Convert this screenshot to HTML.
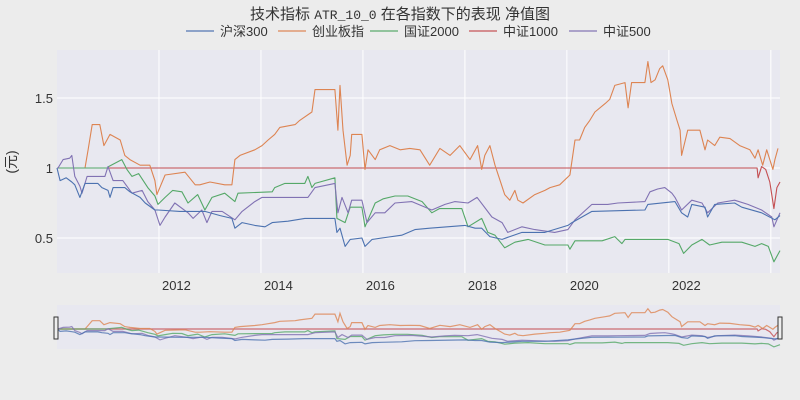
<!DOCTYPE html>
<html><head><meta charset="utf-8">
<style>
html,body{margin:0;padding:0;background:#ececec;}
svg{display:block;font-family:"Liberation Sans","Noto Sans CJK SC",sans-serif;}
</style></head>
<body>
<svg id="chart" width="800" height="400" xmlns="http://www.w3.org/2000/svg">
  <rect x="0" y="0" width="800" height="400" fill="#ececec"/>
  <rect x="57" y="50" width="723" height="223" fill="#e8e8f0"/>
  <g id="grid"></g>
  <g id="series"></g>
  <g id="xaxis"></g>
  <g id="yaxis"></g>
  <text x="400" y="19" text-anchor="middle" font-size="15" fill="#333">技术指标 <tspan font-family="Liberation Mono, monospace" font-size="13">ATR_10_0</tspan> 在各指数下的表现 净值图</text>
  <text transform="translate(16,162) rotate(-90)" text-anchor="middle" font-size="14" fill="#333">(元)</text>
  <g id="legend"></g>
  <rect x="57" y="305" width="723" height="44" fill="#e8e8f0"/>
  <g id="slider-series"></g>
  <rect x="54" y="317" width="4" height="22" fill="#eee" stroke="#333" stroke-width="1"/>
  <rect x="778" y="317" width="4" height="22" fill="#eee" stroke="#333" stroke-width="1"/>
</svg>
<script>
const seriesNames = ["沪深300","创业板指","国证2000","中证1000","中证500"];
const seriesColors = ["#4c72b0","#dd8452","#55a868","#c44e52","#8172b3"];
const xTickYears = [2012,2014,2016,2018,2020,2022];
const xGridYears = [2012,2014,2016,2018,2020,2022,2024];
const yTickValues = [0.5,1,1.5];
const yTickLabels = ["0.5","1","1.5"];

const hs300T = [2010,2010.06,2010.18,2010.29,2010.35,2010.45,2010.55,2010.80,2010.88,2011.00,2011.04,2011.10,2011.33,2011.43,2011.63,2011.73,2011.92,2011.98,2012.41,2012.90,2013.20,2013.43,2013.49,2013.63,2013.88,2014.08,2014.22,2014.53,2014.86,2015.45,2015.49,2015.55,2015.65,2015.75,2015.98,2016.04,2016.18,2016.37,2016.76,2017.02,2017.31,2018.00,2018.20,2018.33,2018.49,2018.73,2018.88,2019.12,2019.57,2020.02,2020.10,2020.49,2021.53,2021.59,2022.12,2022.25,2022.37,2022.45,2022.71,2022.76,2022.90,2023.29,2023.43,2023.82,2024.08,2024.18];
const hs300V = [1.00,0.91,0.93,0.90,0.88,0.79,0.89,0.89,0.86,0.84,0.79,0.86,0.86,0.83,0.79,0.75,0.70,0.70,0.69,0.69,0.66,0.64,0.57,0.61,0.59,0.58,0.61,0.62,0.64,0.64,0.54,0.57,0.44,0.49,0.50,0.44,0.49,0.50,0.52,0.56,0.57,0.59,0.57,0.57,0.51,0.49,0.51,0.54,0.54,0.59,0.61,0.69,0.70,0.74,0.76,0.68,0.65,0.74,0.72,0.65,0.74,0.75,0.72,0.68,0.63,0.66];

const cybT = [2010,2010.55,2010.61,2010.69,2010.84,2010.92,2011.04,2011.24,2011.33,2011.43,2011.63,2011.82,2011.92,2011.96,2012.12,2012.51,2012.71,2012.80,2013.00,2013.29,2013.43,2013.49,2013.59,2013.88,2014.02,2014.14,2014.27,2014.37,2014.67,2014.76,2015.00,2015.06,2015.45,2015.51,2015.55,2015.61,2015.69,2015.75,2015.78,2015.98,2016.04,2016.10,2016.24,2016.33,2016.53,2016.73,2016.92,2017.12,2017.31,2017.51,2017.71,2017.90,2018.10,2018.25,2018.33,2018.39,2018.49,2018.59,2018.69,2018.78,2018.88,2018.98,2019.04,2019.14,2019.37,2019.57,2019.67,2019.86,2020.06,2020.16,2020.25,2020.35,2020.45,2020.55,2020.75,2020.84,2020.94,2021.14,2021.20,2021.27,2021.53,2021.59,2021.65,2021.73,2021.82,2021.88,2021.98,2022.06,2022.16,2022.22,2022.25,2022.37,2022.61,2022.71,2022.76,2022.90,2023.00,2023.20,2023.39,2023.59,2023.69,2023.75,2023.84,2023.92,2023.98,2024.04,2024.08,2024.14];
const cybV = [1.00,1.00,1.13,1.31,1.31,1.16,1.24,1.20,1.09,1.06,1.02,1.02,0.91,0.81,0.95,0.97,0.88,0.88,0.90,0.88,0.88,1.06,1.09,1.13,1.16,1.20,1.24,1.29,1.31,1.34,1.40,1.56,1.56,1.27,1.59,1.27,1.02,1.09,1.24,1.24,0.99,1.13,1.06,1.13,1.16,1.13,1.14,1.13,1.02,1.14,1.09,1.16,1.06,1.16,0.99,1.09,1.16,1.02,0.91,0.81,0.77,0.84,0.77,0.75,0.81,0.84,0.86,0.88,0.95,1.20,1.20,1.29,1.34,1.40,1.46,1.49,1.59,1.61,1.43,1.61,1.61,1.76,1.61,1.63,1.71,1.73,1.63,1.46,1.34,1.27,1.09,1.27,1.27,1.13,1.20,1.16,1.22,1.21,1.16,1.13,1.07,1.13,1.02,1.13,1.06,0.99,1.06,1.14];

const gz2000T = [2010,2011.00,2011.01,2011.27,2011.37,2011.47,2011.60,2011.78,2011.92,2011.98,2012.12,2012.27,2012.45,2012.57,2012.76,2012.90,2013.04,2013.29,2013.49,2013.55,2014.22,2014.27,2014.47,2014.86,2014.92,2015.00,2015.06,2015.45,2015.49,2015.65,2015.75,2015.98,2016.04,2016.24,2016.40,2016.63,2016.88,2017.16,2017.35,2017.50,2017.94,2018.06,2018.33,2018.45,2018.59,2018.78,2018.98,2019.24,2019.57,2020.02,2020.06,2020.16,2020.69,2020.94,2021.08,2021.14,2021.98,2022.20,2022.29,2022.45,2022.65,2022.80,2023.04,2023.43,2023.69,2023.82,2023.95,2024.06,2024.18];
const gz2000V = [1.00,1.00,1.01,1.06,0.99,0.94,0.96,0.86,0.80,0.74,0.79,0.84,0.83,0.75,0.81,0.70,0.79,0.82,0.76,0.82,0.83,0.86,0.89,0.89,0.94,0.86,0.89,0.93,0.64,0.61,0.72,0.72,0.58,0.75,0.78,0.80,0.80,0.76,0.68,0.71,0.71,0.58,0.64,0.54,0.52,0.43,0.47,0.49,0.45,0.45,0.42,0.48,0.48,0.51,0.46,0.49,0.49,0.46,0.39,0.45,0.49,0.45,0.47,0.47,0.44,0.46,0.44,0.33,0.41];

const zz1000T = [2010,2023.73,2023.75,2023.82,2023.90,2023.98,2024.06,2024.12,2024.18];
const zz1000V = [1.00,1.00,0.93,1.01,0.99,0.90,0.71,0.86,0.90];

const zz500T = [2010,2010.02,2010.12,2010.25,2010.29,2010.35,2010.45,2010.49,2010.59,2010.94,2011.00,2011.10,2011.29,2011.47,2011.67,2011.78,2011.92,2012.02,2012.12,2012.31,2012.57,2012.67,2012.84,2012.94,2013.04,2013.24,2013.49,2013.63,2013.88,2014.02,2014.27,2014.53,2014.86,2014.92,2015.06,2015.45,2015.51,2015.59,2015.71,2015.78,2015.98,2016.08,2016.24,2016.43,2016.63,2016.96,2017.35,2017.61,2017.80,2018.06,2018.24,2018.53,2018.73,2018.84,2019.12,2019.37,2019.76,2020.02,2020.16,2020.49,2020.80,2021.00,2021.53,2021.63,2021.78,2021.92,2022.06,2022.12,2022.25,2022.45,2022.65,2022.76,2022.96,2023.29,2023.55,2023.82,2024.02,2024.06,2024.18];
const zz500V = [1.00,1.00,1.06,1.07,1.09,0.94,0.87,0.82,0.94,0.94,1.01,0.91,0.91,0.82,0.84,0.76,0.70,0.59,0.65,0.75,0.68,0.64,0.70,0.61,0.69,0.69,0.63,0.69,0.76,0.79,0.79,0.79,0.79,0.79,0.86,0.89,0.68,0.79,0.68,0.77,0.77,0.61,0.68,0.68,0.75,0.76,0.70,0.74,0.76,0.75,0.79,0.65,0.61,0.54,0.58,0.56,0.54,0.56,0.63,0.74,0.74,0.75,0.76,0.83,0.85,0.86,0.82,0.79,0.70,0.77,0.75,0.68,0.75,0.77,0.74,0.70,0.65,0.58,0.68];

const allT = [hs300T,cybT,gz2000T,zz1000T,zz500T];
const allV = [hs300V,cybV,gz2000V,zz1000V,zz500V];

const NS="http://www.w3.org/2000/svg";
const X0=57,X1=780,T0=2010.0,T1=2024.18;
function xScale(t){return X0+(t-T0)/(T1-T0)*(X1-X0);}
function yScale(v){return 168-(v-1)*140;}
const SV_MIN=0.25,SV_MAX=1.9,SY0=305,SY1=349;
function ySlider(v){return SY1-(v-SV_MIN)/(SV_MAX-SV_MIN)*(SY1-SY0);}
function mk(tag,attrs,parent){const e=document.createElementNS(NS,tag);for(const k in attrs)e.setAttribute(k,attrs[k]);parent.appendChild(e);return e;}

const grid=document.getElementById('grid');
xGridYears.forEach(yr=>{
  const l=mk('line',{x1:xScale(yr),x2:xScale(yr),y1:50,y2:273,stroke:'#fff','stroke-width':1},grid);
  
  
});
yTickValues.forEach(v=>{
  const l=mk('line',{x1:X0,x2:X1,y1:yScale(v),y2:yScale(v),stroke:'#fff','stroke-width':1},grid);
  
  
});
const xa=document.getElementById('xaxis');
xTickYears.forEach(yr=>{
  const t=mk('text',{x:xScale(yr)+3,y:290,'font-size':13,fill:'#333'},xa);
  t.textContent=String(yr);
  
  
});
const ya=document.getElementById('yaxis');
yTickValues.forEach((v,i)=>{
  const t=mk('text',{x:53,y:yScale(v)+5,'font-size':13,fill:'#333','text-anchor':'end'},ya);
  t.textContent=yTickLabels[i];
  
  
});
function pathD(T,V,ys){return T.map((t,i)=>(i?'L':'M')+xScale(t).toFixed(1)+','+ys(V[i]).toFixed(1)).join(' ');}
const sg=document.getElementById('series'), ss=document.getElementById('slider-series');
const order=[3,1,2,4,0];
order.forEach(i=>{
  const p=mk('path',{d:pathD(allT[i],allV[i],yScale),fill:'none',stroke:seriesColors[i],'stroke-width':1.1,'stroke-linejoin':'round'},sg);
  
  
  const q=mk('path',{d:pathD(allT[i],allV[i],ySlider),fill:'none',stroke:seriesColors[i],'stroke-width':1.2,'stroke-opacity':0.8},ss);
  
  
});
const lg=document.getElementById('legend');
const legendX=[186,278,370,469,569];
seriesNames.forEach((n,i)=>{
  const g=mk('g',{},lg);
  
  
  mk('line',{x1:legendX[i],x2:legendX[i]+28,y1:31,y2:31,stroke:seriesColors[i],'stroke-width':2,'stroke-opacity':0.6},g);
  const t=mk('text',{x:legendX[i]+34,y:36,'font-size':13,fill:'#333'},g);
  t.textContent=n;
});
</script>
</body></html>
